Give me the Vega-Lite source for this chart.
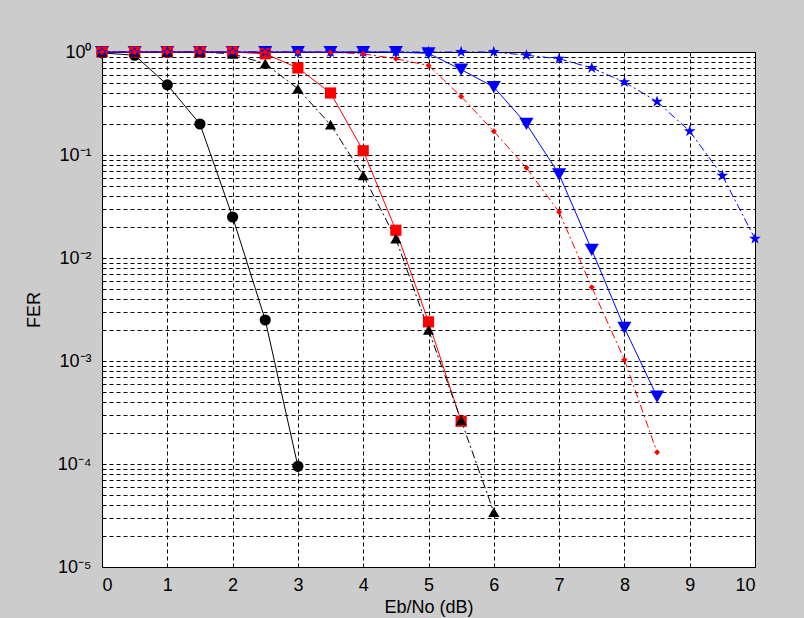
{
  "$schema": "https://vega.github.io/schema/vega-lite/v6.json",
  "width": 653,
  "height": 515,
  "autosize": {"type": "none"},
  "padding": {"left": 102, "top": 52, "right": 49, "bottom": 51},
  "background": "#cccccc",
  "config": {
    "view": {"fill": "white", "stroke": "black", "strokeWidth": 1},
    "font": "Liberation Sans"
  },
  "data": {
    "values": [
      {"s": "QPSK AWGN", "x": 0, "y": 0.98},
      {"s": "QPSK AWGN", "x": 0.5, "y": 0.93},
      {"s": "QPSK AWGN", "x": 1, "y": 0.48},
      {"s": "QPSK AWGN", "x": 1.5, "y": 0.2},
      {"s": "QPSK AWGN", "x": 2, "y": 0.025},
      {"s": "QPSK AWGN", "x": 2.5, "y": 0.0025},
      {"s": "QPSK AWGN", "x": 3, "y": 0.000095},
      {"s": "16-QAM AWGN", "x": 0, "y": 1},
      {"s": "16-QAM AWGN", "x": 0.5, "y": 1},
      {"s": "16-QAM AWGN", "x": 1, "y": 1},
      {"s": "16-QAM AWGN", "x": 1.5, "y": 1},
      {"s": "16-QAM AWGN", "x": 2, "y": 1},
      {"s": "16-QAM AWGN", "x": 2.5, "y": 0.96},
      {"s": "16-QAM AWGN", "x": 3, "y": 0.7},
      {"s": "16-QAM AWGN", "x": 3.5, "y": 0.4},
      {"s": "16-QAM AWGN", "x": 4, "y": 0.11},
      {"s": "16-QAM AWGN", "x": 4.5, "y": 0.0186},
      {"s": "16-QAM AWGN", "x": 5, "y": 0.0024},
      {"s": "16-QAM AWGN", "x": 5.5, "y": 0.00026},
      {"s": "64-QAM AWGN", "x": 0, "y": 1},
      {"s": "64-QAM AWGN", "x": 0.5, "y": 1},
      {"s": "64-QAM AWGN", "x": 1, "y": 1},
      {"s": "64-QAM AWGN", "x": 1.5, "y": 1},
      {"s": "64-QAM AWGN", "x": 2, "y": 1},
      {"s": "64-QAM AWGN", "x": 2.5, "y": 1},
      {"s": "64-QAM AWGN", "x": 3, "y": 1},
      {"s": "64-QAM AWGN", "x": 3.5, "y": 1},
      {"s": "64-QAM AWGN", "x": 4, "y": 1},
      {"s": "64-QAM AWGN", "x": 4.5, "y": 1},
      {"s": "64-QAM AWGN", "x": 5, "y": 0.97},
      {"s": "64-QAM AWGN", "x": 5.5, "y": 0.675},
      {"s": "64-QAM AWGN", "x": 6, "y": 0.457},
      {"s": "64-QAM AWGN", "x": 6.5, "y": 0.2},
      {"s": "64-QAM AWGN", "x": 7, "y": 0.065},
      {"s": "64-QAM AWGN", "x": 7.5, "y": 0.012},
      {"s": "64-QAM AWGN", "x": 8, "y": 0.0021},
      {"s": "64-QAM AWGN", "x": 8.5, "y": 0.00045},
      {"s": "QPSK Rayleigh", "x": 0, "y": 1},
      {"s": "QPSK Rayleigh", "x": 0.5, "y": 1},
      {"s": "QPSK Rayleigh", "x": 1, "y": 1},
      {"s": "QPSK Rayleigh", "x": 1.5, "y": 1},
      {"s": "QPSK Rayleigh", "x": 2, "y": 0.96},
      {"s": "QPSK Rayleigh", "x": 2.5, "y": 0.77},
      {"s": "QPSK Rayleigh", "x": 3, "y": 0.44},
      {"s": "QPSK Rayleigh", "x": 3.5, "y": 0.197},
      {"s": "QPSK Rayleigh", "x": 4, "y": 0.0635},
      {"s": "QPSK Rayleigh", "x": 4.5, "y": 0.0154},
      {"s": "QPSK Rayleigh", "x": 5, "y": 0.002},
      {"s": "QPSK Rayleigh", "x": 5.5, "y": 0.000265},
      {"s": "QPSK Rayleigh", "x": 6, "y": 0.000034},
      {"s": "16-QAM Rayleigh", "x": 0, "y": 1},
      {"s": "16-QAM Rayleigh", "x": 0.5, "y": 1},
      {"s": "16-QAM Rayleigh", "x": 1, "y": 1},
      {"s": "16-QAM Rayleigh", "x": 1.5, "y": 1},
      {"s": "16-QAM Rayleigh", "x": 2, "y": 1},
      {"s": "16-QAM Rayleigh", "x": 2.5, "y": 1},
      {"s": "16-QAM Rayleigh", "x": 3, "y": 1},
      {"s": "16-QAM Rayleigh", "x": 3.5, "y": 0.99},
      {"s": "16-QAM Rayleigh", "x": 4, "y": 0.96},
      {"s": "16-QAM Rayleigh", "x": 4.5, "y": 0.86},
      {"s": "16-QAM Rayleigh", "x": 5, "y": 0.74},
      {"s": "16-QAM Rayleigh", "x": 5.5, "y": 0.37},
      {"s": "16-QAM Rayleigh", "x": 6, "y": 0.17},
      {"s": "16-QAM Rayleigh", "x": 6.5, "y": 0.075},
      {"s": "16-QAM Rayleigh", "x": 7, "y": 0.028},
      {"s": "16-QAM Rayleigh", "x": 7.5, "y": 0.0052},
      {"s": "16-QAM Rayleigh", "x": 8, "y": 0.00103},
      {"s": "16-QAM Rayleigh", "x": 8.5, "y": 0.00013},
      {"s": "64=QAM Rayleigh", "x": 0, "y": 1},
      {"s": "64=QAM Rayleigh", "x": 0.5, "y": 1},
      {"s": "64=QAM Rayleigh", "x": 1, "y": 1},
      {"s": "64=QAM Rayleigh", "x": 1.5, "y": 1},
      {"s": "64=QAM Rayleigh", "x": 2, "y": 1},
      {"s": "64=QAM Rayleigh", "x": 2.5, "y": 1},
      {"s": "64=QAM Rayleigh", "x": 3, "y": 1},
      {"s": "64=QAM Rayleigh", "x": 3.5, "y": 1},
      {"s": "64=QAM Rayleigh", "x": 4, "y": 1},
      {"s": "64=QAM Rayleigh", "x": 4.5, "y": 1},
      {"s": "64=QAM Rayleigh", "x": 5, "y": 1},
      {"s": "64=QAM Rayleigh", "x": 5.5, "y": 1},
      {"s": "64=QAM Rayleigh", "x": 6, "y": 1},
      {"s": "64=QAM Rayleigh", "x": 6.5, "y": 0.93},
      {"s": "64=QAM Rayleigh", "x": 7, "y": 0.86},
      {"s": "64=QAM Rayleigh", "x": 7.5, "y": 0.7},
      {"s": "64=QAM Rayleigh", "x": 8, "y": 0.51},
      {"s": "64=QAM Rayleigh", "x": 8.5, "y": 0.33},
      {"s": "64=QAM Rayleigh", "x": 9, "y": 0.17},
      {"s": "64=QAM Rayleigh", "x": 9.5, "y": 0.063},
      {"s": "64=QAM Rayleigh", "x": 10, "y": 0.0154}
    ]
  },
  "encoding": {
    "x": {
      "field": "x",
      "type": "quantitative",
      "scale": {"domain": [0, 10], "nice": false, "zero": false},
      "axis": {
        "values": [0, 1, 2, 3, 4, 5, 6, 7, 8, 9, 10],
        "title": "Eb/No (dB)",
        "grid": true,
        "gridColor": "black",
        "gridDash": [4, 3],
        "gridOpacity": 1,
        "domain": false,
        "ticks": false,
        "labelFontSize": 18,
        "labelColor": "black",
        "labelPadding": 9,
        "titleFontSize": 18,
        "titleFontWeight": "normal",
        "titleColor": "black",
        "titlePadding": 4
      }
    },
    "y": {
      "field": "y",
      "type": "quantitative",
      "scale": {"type": "log", "domain": [0.00001, 1], "nice": false},
      "axis": {
        "values": [0.00001, 0.00002, 0.00003, 0.00004, 0.00005, 0.00006, 0.00007, 0.00008, 0.00009,
                   0.0001, 0.0002, 0.0003, 0.0004, 0.0005, 0.0006, 0.0007, 0.0008, 0.0009,
                   0.001, 0.002, 0.003, 0.004, 0.005, 0.006, 0.007, 0.008, 0.009,
                   0.01, 0.02, 0.03, 0.04, 0.05, 0.06, 0.07, 0.08, 0.09,
                   0.1, 0.2, 0.3, 0.4, 0.5, 0.6, 0.7, 0.8, 0.9, 1],
        "labelExpr": "datum.value === 1 ? '10⁰' : datum.value === 0.1 ? '10⁻¹' : datum.value === 0.01 ? '10⁻²' : datum.value === 0.001 ? '10⁻³' : datum.value === 0.0001 ? '10⁻⁴' : datum.value === 0.00001 ? '10⁻⁵' : ''",
        "labelOverlap": false,
        "title": "FER",
        "grid": true,
        "gridColor": "black",
        "gridDash": [4, 3],
        "gridOpacity": 1,
        "domain": false,
        "ticks": false,
        "labelFontSize": 18,
        "labelColor": "black",
        "labelPadding": 11,
        "titleFontSize": 18,
        "titleFontWeight": "normal",
        "titleColor": "black",
        "titlePadding": 14
      }
    }
  },
  "layer": [
    {
      "transform": [
        {"filter": {"field": "s", "oneOf": ["QPSK AWGN", "16-QAM AWGN", "64-QAM AWGN"]}},
        {"window": [{"op": "lead", "field": "x", "as": "x2"}, {"op": "lead", "field": "y", "as": "y2"}], "groupby": ["s"], "sort": [{"field": "x", "order": "ascending"}]},
        {"filter": "isValid(datum.x2)"}
      ],
      "mark": {"type": "rule", "strokeWidth": 1},
      "encoding": {
        "x2": {"field": "x2"},
        "y2": {"field": "y2"},
        "color": {
          "field": "s",
          "type": "nominal",
          "scale": {
            "domain": ["QPSK AWGN", "16-QAM AWGN", "64-QAM AWGN", "QPSK Rayleigh", "16-QAM Rayleigh", "64=QAM Rayleigh"],
            "range": ["#000000", "#ff0000", "#0000ff", "#000000", "#ff0000", "#0000ff"]
          },
          "legend": null
        }
      }
    },
    {
      "transform": [
        {"filter": {"field": "s", "oneOf": ["QPSK Rayleigh", "16-QAM Rayleigh", "64=QAM Rayleigh"]}},
        {"window": [{"op": "lead", "field": "x", "as": "x2"}, {"op": "lead", "field": "y", "as": "y2"}], "groupby": ["s"], "sort": [{"field": "x", "order": "ascending"}]},
        {"filter": "isValid(datum.x2)"}
      ],
      "mark": {"type": "rule", "strokeWidth": 1, "strokeDash": [8, 3, 2, 3]},
      "encoding": {
        "x2": {"field": "x2"},
        "y2": {"field": "y2"},
        "color": {"field": "s", "type": "nominal", "legend": null}
      }
    },
    {
      "transform": [{"filter": {"field": "s", "equal": "64-QAM AWGN"}}],
      "mark": {"type": "point", "filled": true, "opacity": 1, "size": 200},
      "encoding": {
        "color": {"field": "s", "type": "nominal", "legend": null},
        "shape": {"field": "s", "type": "nominal", "legend": null}
      }
    },
    {
      "transform": [{"filter": {"field": "s", "oneOf": ["QPSK AWGN", "16-QAM AWGN", "QPSK Rayleigh", "64=QAM Rayleigh"]}}],
      "mark": {"type": "point", "filled": true, "opacity": 1, "size": 125},
      "encoding": {
        "color": {
          "field": "s",
          "type": "nominal",
          "legend": {
            "orient": "none",
            "legendX": 365,
            "legendY": 41,
            "title": null,
            "fillColor": "white",
            "strokeColor": "#333333",
            "padding": 7,
            "rowPadding": 10,
            "labelFontSize": 19,
            "labelColor": "black",
            "labelLimit": 400,
            "symbolSize": 110,
            "symbolOffset": 28,
            "labelOffset": 56
          }
        },
        "shape": {
          "field": "s",
          "type": "nominal",
          "scale": {
            "domain": ["QPSK AWGN", "16-QAM AWGN", "64-QAM AWGN", "QPSK Rayleigh", "16-QAM Rayleigh", "64=QAM Rayleigh"],
            "range": ["circle", "square", "triangle-down", "triangle-up", "diamond", "M0,-1.1L0.25,-0.34L1.05,-0.34L0.4,0.13L0.65,0.89L0,0.42L-0.65,0.89L-0.4,0.13L-1.05,-0.34L-0.25,-0.34Z"]
          },
          "legend": {
            "orient": "none",
            "legendX": 365,
            "legendY": 41,
            "title": null,
            "fillColor": "white",
            "strokeColor": "#333333",
            "padding": 7,
            "rowPadding": 10,
            "labelFontSize": 19,
            "labelColor": "black",
            "labelLimit": 400,
            "symbolSize": 110,
            "symbolOffset": 28,
            "labelOffset": 56
          }
        }
      }
    },
    {
      "transform": [{"filter": {"field": "s", "equal": "16-QAM Rayleigh"}}],
      "mark": {"type": "point", "filled": true, "opacity": 1, "size": 36},
      "encoding": {
        "color": {"field": "s", "type": "nominal", "legend": null},
        "shape": {"field": "s", "type": "nominal", "legend": null}
      }
    }
  ]
}
